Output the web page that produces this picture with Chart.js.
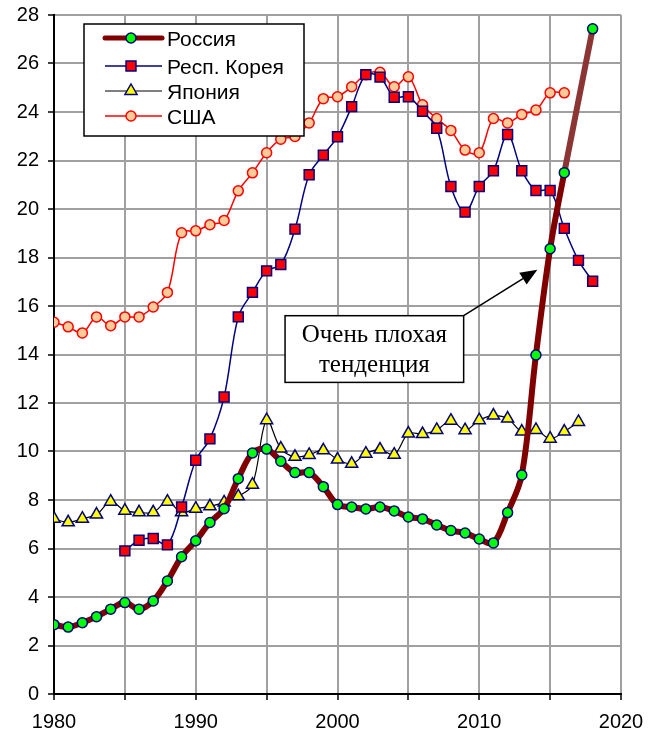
<!DOCTYPE html>
<html>
<head>
<meta charset="utf-8">
<script src="https://cdn.jsdelivr.net/npm/chart.js@4.4.1/dist/chart.umd.min.js"></script>
<style>
  html, body { margin: 0; padding: 0; background: #fff; }
</style>
</head>
<body>
<canvas id="chart" width="657" height="738"></canvas>
<script>
// values
var seriesNames = ["Россия", "Респ. Корея", "Япония", "США"];

var russiaYears = [1980,1981,1982,1983,1984,1985,1986,1987,1988,1989,
  1990,1991,1992,1993,1994,1995,1996,1997,1998,1999,
  2000,2001,2002,2003,2004,2005,2006,2007,2008,2009,
  2010,2011,2012,2013,2014,2015,2016,2018];
var russia = [2.86,2.76,2.94,3.19,3.5,3.77,3.5,3.84,4.66,5.66,
  6.32,7.07,7.64,8.88,9.94,10.1,9.6,9.13,9.13,8.55,
  7.81,7.71,7.63,7.71,7.55,7.3,7.22,6.97,6.74,6.64,
  6.39,6.23,7.48,9.03,13.98,18.36,21.5,27.43];

var koreaYears = [1985,1986,1987,1988,1989,
  1990,1991,1992,1993,1994,1995,1996,1997,1998,1999,
  2000,2001,2002,2003,2004,2005,2006,2007,2008,2009,
  2010,2011,2012,2013,2014,2015,2016,2017,2018];
var korea = [5.9,6.34,6.41,6.15,7.71,
  9.64,10.52,12.25,15.55,16.56,17.45,17.71,19.17,21.41,22.22,
  22.98,24.22,25.54,25.44,24.61,24.63,24.03,23.33,20.93,19.87,
  20.93,21.58,23.07,21.58,20.76,20.76,19.2,17.88,17.02];

var japanYears = [1980,1981,1982,1983,1984,1985,1986,1987,1988,1989,
  1990,1991,1992,1993,1994,1995,1996,1997,1998,1999,
  2000,2001,2002,2003,2004,2005,2006,2007,2008,2009,
  2010,2011,2012,2013,2014,2015,2016,2017];
var japan = [7.23,7.08,7.23,7.4,7.93,7.56,7.49,7.49,7.93,7.49,
  7.64,7.74,7.9,8.15,8.63,11.29,10.12,9.78,9.86,10.05,
  9.67,9.49,9.91,10.08,9.87,10.74,10.72,10.89,11.27,10.88,
  11.29,11.48,11.36,10.82,10.89,10.53,10.82,11.22];

var usaYears = [1980,1981,1982,1983,1984,1985,1986,1987,1988,1989,
  1990,1991,1992,1993,1994,1995,1996,1997,1998,1999,
  2000,2001,2002,2003,2004,2005,2006,2007,2008,2009,
  2010,2011,2012,2013,2014,2015,2016];
var usa = [15.33,15.14,14.89,15.55,15.19,15.55,15.55,15.96,16.56,19.02,
  19.1,19.35,19.53,20.75,21.49,22.32,22.88,22.99,23.55,24.55,
  24.63,25.04,25.54,25.64,25.04,25.45,24.3,23.73,23.24,22.43,
  22.32,23.73,23.55,23.9,24.08,24.79,24.79];

var noteLines = ["Очень плохая", "тенденция"];

function pts(xs, ys) {
  return xs.map(function(x, i) { return { x: x, y: ys[i] }; });
}

Chart.defaults.font.family = "'Liberation Sans', Arial, sans-serif";
Chart.defaults.color = "#000";

// legend in a framed box + the text callout with arrow
var extras = {
  id: "extras",
  afterDraw: function(chart) {
    var ctx = chart.ctx, xs = chart.scales.x, ys = chart.scales.y;
    var area = chart.chartArea;

    // callout box
    var bx0 = xs.getPixelForValue(1996.3), bx1 = xs.getPixelForValue(2008.9);
    var by0 = ys.getPixelForValue(15.6), by1 = ys.getPixelForValue(12.85);
    ctx.save();
    ctx.fillStyle = "#fff";
    ctx.fillRect(bx0, by0, bx1 - bx0, by1 - by0);
    ctx.strokeStyle = "#000";
    ctx.lineWidth = 1.5;
    ctx.strokeRect(bx0, by0, bx1 - bx0, by1 - by0);
    ctx.fillStyle = "#000";
    ctx.font = "25px 'Liberation Serif', 'Times New Roman', serif";
    ctx.textAlign = "center";
    ctx.textBaseline = "middle";
    var cx = (bx0 + bx1) / 2, cy = (by0 + by1) / 2;
    ctx.fillText(noteLines[0], cx, cy - 14);
    ctx.fillText(noteLines[1], cx, cy + 16);

    // arrow
    var ax = bx1, ay = by0;
    var tx = xs.getPixelForValue(2014.1), ty = ys.getPixelForValue(17.5);
    var ang = Math.atan2(ty - ay, tx - ax);
    var hl = 17, hw = 7;
    ctx.beginPath();
    ctx.moveTo(ax, ay);
    ctx.lineTo(tx - Math.cos(ang) * hl, ty - Math.sin(ang) * hl);
    ctx.lineWidth = 1.5;
    ctx.stroke();
    ctx.beginPath();
    ctx.moveTo(tx, ty);
    ctx.lineTo(tx - Math.cos(ang) * hl - Math.sin(ang) * hw, ty - Math.sin(ang) * hl + Math.cos(ang) * hw);
    ctx.lineTo(tx - Math.cos(ang) * hl + Math.sin(ang) * hw, ty - Math.sin(ang) * hl - Math.cos(ang) * hw);
    ctx.closePath();
    ctx.fill();

    // legend
    var lx = area.left + 30, ly = area.top + 9, lw = 220, lh = 112;
    ctx.fillStyle = "#fff";
    ctx.fillRect(lx, ly, lw, lh);
    ctx.strokeStyle = "#000";
    ctx.lineWidth = 1.5;
    ctx.strokeRect(lx, ly, lw, lh);
    var rows = [14, 42, 67, 92];
    ctx.font = "21px 'Liberation Sans', Arial, sans-serif";
    ctx.textAlign = "left";
    chart.data.datasets.forEach(function(ds, i) {
      var y = ly + rows[i];
      var mx = lx + 47;
      ctx.beginPath();
      ctx.moveTo(lx + 21, y);
      ctx.lineTo(lx + 78, y);
      ctx.strokeStyle = ds.borderColor;
      ctx.lineWidth = i === 0 ? 5 : ds.borderWidth;
      ctx.lineCap = i === 0 ? "round" : "butt";
      ctx.stroke();
      ctx.lineCap = "butt";
      ctx.fillStyle = ds.pointBackgroundColor;
      ctx.strokeStyle = ds.pointBorderColor;
      ctx.lineWidth = ds.pointBorderWidth;
      ctx.beginPath();
      if (ds.pointStyle === "circle") {
        ctx.arc(mx, y, ds.pointRadius, 0, Math.PI * 2);
      } else if (ds.pointStyle === "rect") {
        var s = ds.pointRadius * Math.SQRT1_2;
        ctx.rect(mx - s, y - s, 2 * s, 2 * s);
      } else {
        var r = ds.pointRadius;
        ctx.moveTo(mx, y - r);
        ctx.lineTo(mx + r * 0.866, y + r * 0.5);
        ctx.lineTo(mx - r * 0.866, y + r * 0.5);
        ctx.closePath();
      }
      ctx.fill();
      ctx.stroke();
      ctx.fillStyle = "#000";
      ctx.fillText(ds.label, lx + 83, y + 2);
    });
    ctx.restore();
  }
};

new Chart(document.getElementById("chart"), {
  type: "line",
  data: {
    datasets: [
      {
        label: seriesNames[0],
        data: pts(russiaYears, russia),
        borderColor: "#800000",
        borderWidth: 6,
        tension: 0.35,
        pointStyle: "circle",
        pointRadius: 5,
        pointBorderWidth: 1.5,
        pointBackgroundColor: "#00ff00",
        pointBorderColor: "#000080",
        segment: {
          borderColor: function(c) { return c.p0.parsed.x >= 2016 ? "#8c3535" : "#800000"; }
        }
      },
      {
        label: seriesNames[1],
        data: pts(koreaYears, korea),
        borderColor: "#000080",
        borderWidth: 1.5,
        tension: 0.35,
        pointStyle: "rect",
        pointRadius: 7,
        pointBorderWidth: 1.5,
        pointBackgroundColor: "#ff0000",
        pointBorderColor: "#000080"
      },
      {
        label: seriesNames[2],
        data: pts(japanYears, japan),
        borderColor: "#000000",
        borderWidth: 1.2,
        tension: 0.35,
        pointStyle: "triangle",
        pointRadius: 7,
        pointBorderWidth: 1.5,
        pointBackgroundColor: "#ffff00",
        pointBorderColor: "#000080"
      },
      {
        label: seriesNames[3],
        data: pts(usaYears, usa),
        borderColor: "#ff0000",
        borderWidth: 1.5,
        tension: 0.35,
        pointStyle: "circle",
        pointRadius: 5,
        pointBorderWidth: 1.5,
        pointBackgroundColor: "#ffcc99",
        pointBorderColor: "#ff0000"
      }
    ]
  },
  options: {
    responsive: false,
    animation: false,
    layout: { padding: { top: 15, right: 36, left: 0, bottom: 0 } },
    plugins: { legend: { display: false }, tooltip: { enabled: false } },
    scales: {
      x: {
        type: "linear",
        min: 1980,
        max: 2020,
        afterFit: function(s) { s.height = 44; s.paddingLeft = 0; s.paddingRight = 0; },
        ticks: {
          stepSize: 5,
          maxRotation: 0,
          padding: 10,
          font: { size: 20 },
          callback: function(v) { return v % 10 === 0 ? String(v) : ""; }
        },
        grid: {
          color: "#a0a0a0",
          lineWidth: 2,
          tickLength: 6,
          tickColor: "#000",
          tickWidth: 1.5
        },
        border: { color: "#000", width: 2 }
      },
      y: {
        min: 0,
        max: 28,
        afterFit: function(s) { s.width = 54; s.paddingTop = 0; s.paddingBottom = 0; },
        ticks: {
          stepSize: 1,
          padding: 9,
          font: { size: 20 },
          callback: function(v) { return v % 2 === 0 ? String(v) : ""; }
        },
        grid: {
          color: function(c) { return c.tick && c.tick.value % 2 === 0 ? "#a0a0a0" : "#d2d2d2"; },
          lineWidth: 2,
          tickLength: 6,
          tickColor: function(c) { return c.tick && c.tick.value % 2 === 0 ? "#000" : "rgba(0,0,0,0)"; },
          tickWidth: 1.5
        },
        border: { color: "#000", width: 2 }
      }
    }
  },
  plugins: [extras]
});
</script>
</body>
</html>
